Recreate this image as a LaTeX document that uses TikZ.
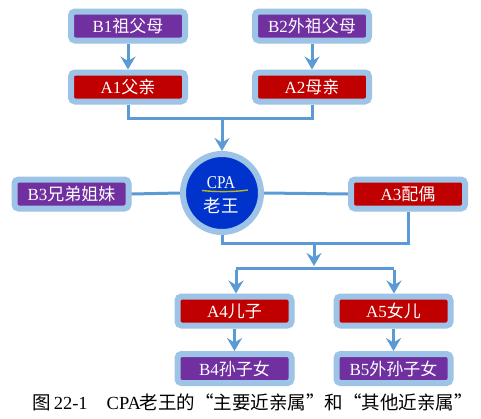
\documentclass[tikz,border=0pt]{standalone}
\usepackage{fontspec}
\setmainfont{Liberation Serif}
\newfontfamily\cjk{Noto Sans CJK SC}
\usetikzlibrary{arrows.meta}
\definecolor{lb}{HTML}{9DC3E6}
\definecolor{ln}{HTML}{5B9BD5}
\definecolor{pu}{HTML}{7030A0}
\definecolor{rd}{HTML}{C00000}
\definecolor{cb}{HTML}{0033CC}
\definecolor{ul}{HTML}{B8B820}
\newcommand{\myopenq}{\makebox[1em][r]{\cjk “}}
\newcommand{\mycloseq}{\makebox[1em][l]{\cjk ”}}
\begin{document}
\begin{tikzpicture}[x=1pt,y=-1pt,
  box/.style={draw=lb, line width=6pt, rounded corners=4pt, minimum width=114pt,
    minimum height=29pt, inner sep=0pt, outer sep=3pt, text=white,
    font=\fontsize{17}{17}\selectfont},
  pbox/.style={box, fill=pu},
  rbox/.style={box, fill=rd},
  conn/.style={draw=ln, line width=3pt},
  arr/.style={conn, -{Stealth[length=13pt,width=15pt,inset=4.5pt]}}]
\useasboundingbox (0,0) rectangle (481,418);
\fill[white] (0,0) rectangle (481,418);

\node[pbox] (b1) at (128,26) {B1{\cjk 祖父母}};
\node[rbox] (a1) at (128,87) {A1{\cjk 父亲}};
\node[pbox] (b2) at (312,26) {B2{\cjk 外祖父母}};
\node[rbox] (a2) at (312,87) {A2{\cjk 母亲}};
\node[pbox] (b3) at (71.5,194) {B3{\cjk 兄弟姐妹}};
\node[rbox] (a3) at (408,194) {A3{\cjk 配偶}};
\node[circle, draw=lb, fill=cb, line width=6pt, minimum size=78pt, inner sep=0pt, outer sep=3pt] (me) at (222,193) {};
\node[text=white, font=\fontsize{18}{18}\selectfont, inner sep=0pt, xscale=0.85] (cpa) at (221,182.5) {CPA};
\node[text=white, font=\cjk\fontsize{17.5}{17.5}\selectfont, inner sep=0pt] (wang) at (221,205.5) {老王};
\draw[ul, line width=1.4pt] (202,190.5) .. controls (215,192) and (235,192) .. (248,190);
\node[rbox] (a4) at (234.5,311) {A4{\cjk 儿子}};
\node[pbox] (b4) at (234.5,368.5) {B4{\cjk 孙子女}};
\node[rbox] (a5) at (393.5,311) {A5{\cjk 女儿}};
\node[pbox] (b5) at (393.5,368.5) {B5{\cjk 外孙子女}};

\coordinate (j1) at (222,118);
\coordinate (j2) at (314,243);
\coordinate (j3) at (314,266);
\coordinate (l4) at (236,268);
\coordinate (l5) at (394,268);

\draw[arr] (b1) -- (a1);
\draw[arr] (b2) -- (a2);
\draw[conn] (a1.south) |- (j1) -| (a2.south);
\draw[arr] (j1) -- (me.north);
\draw[conn] (b3.east) -- (me.west);
\draw[conn] (me.east) -- (a3.west);
\draw[conn] (me.south) |- (j2) -| (a3.south);
\draw[arr] (j2) -- (j3);
\draw[conn] (l4) -- (l5);
\draw[arr] ([yshift=-1.5pt]l4) -- (l4 |- a4.north);
\draw[arr] ([yshift=-1.5pt]l5) -- (l5 |- a5.north);
\draw[arr] (a4) -- (b4);
\draw[arr] (a5) -- (b5);

\node[font=\fontsize{18.5}{18.5}\selectfont, inner sep=0pt, anchor=west] (cap) at (32,402) {{\cjk 图}\makebox[40pt][l]{\,22-1}\hspace{16pt}\makebox[33pt][l]{CPA}{\cjk 老王的}\myopenq{\cjk 主要近亲属}\mycloseq{\cjk 和}\myopenq{\cjk 其他近亲属}\mycloseq};
\end{tikzpicture}
\end{document}
